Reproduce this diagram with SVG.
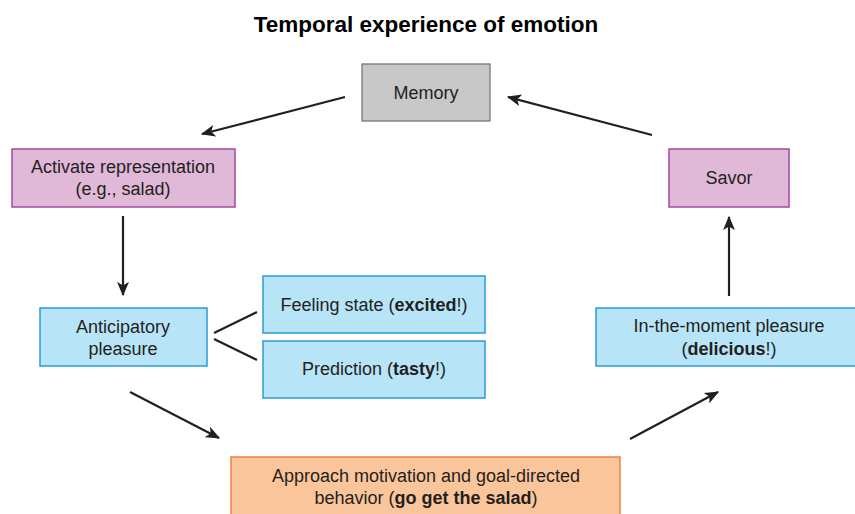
<svg xmlns="http://www.w3.org/2000/svg" width="855" height="514" viewBox="0 0 855 514">
<defs>
<style>
text{font-family:"Liberation Sans",Arial,sans-serif;font-size:18px;fill:#231f20;text-anchor:middle}
.title{font-size:22.5px;font-weight:bold;fill:#000}
.b{font-weight:bold}
.gray{fill:#c8c8c8;stroke:#6d6e70;stroke-width:1.2}
.pink{fill:#e0b8d8;stroke:#a54aa0;stroke-width:1.5}
.blue{fill:#b8e4f8;stroke:#2a9ad8;stroke-width:1.5}
.orange{fill:#fbc59b;stroke:#f08040;stroke-width:1.5}
.conn line{stroke:#231f20;stroke-width:2.2;fill:none}
.arr{marker-end:url(#ah)}
</style>
<marker id="ah" viewBox="0 0 12 10" refX="11" refY="5" markerWidth="6.5" markerHeight="5.5" orient="auto" markerUnits="strokeWidth">
<path d="M0,0 L12,5 L0,10 L3,5 Z" fill="#231f20"/>
</marker>
</defs>
<rect width="855" height="514" fill="#fff"/>
<text class="title" x="426" y="32">Temporal experience of emotion</text>

<g id="memory"><rect class="gray" x="362" y="64" width="128" height="57"/><text x="426" y="99">Memory</text></g>
<g id="activate"><rect class="pink" x="12" y="149" width="223" height="58"/><text x="123" y="173">Activate representation</text><text x="123" y="195">(e.g., salad)</text></g>
<g id="savor"><rect class="pink" x="669" y="149" width="120" height="58"/><text x="729" y="184">Savor</text></g>
<g id="anticipatory"><rect class="blue" x="40" y="308" width="167" height="58"/><text x="123" y="333">Anticipatory</text><text x="123" y="355">pleasure</text></g>
<g id="feeling"><rect class="blue" x="263" y="276" width="222" height="57"/><text x="374" y="311">Feeling state (<tspan class="b">excited</tspan>!)</text></g>
<g id="prediction"><rect class="blue" x="263" y="341" width="222" height="57"/><text x="374" y="375">Prediction (<tspan class="b">tasty</tspan>!)</text></g>
<g id="moment"><rect class="blue" x="596" y="308" width="266" height="58"/><text x="729" y="332">In-the-moment pleasure</text><text x="729" y="355">(<tspan class="b">delicious</tspan>!)</text></g>
<g id="approach"><rect class="orange" x="231" y="457" width="389" height="70"/><text x="426" y="482">Approach motivation and goal-directed</text><text x="426" y="504">behavior (<tspan class="b">go get the salad</tspan>)</text></g>

<g class="conn" id="connectors">
<line class="arr" x1="345" y1="97" x2="202" y2="134"/>
<line class="arr" x1="652" y1="135" x2="508" y2="97"/>
<line class="arr" x1="123" y1="216" x2="123" y2="295"/>
<line class="arr" x1="729" y1="296" x2="729" y2="217"/>
<line class="arr" x1="130" y1="392" x2="219" y2="438"/>
<line class="arr" x1="630" y1="439" x2="718" y2="392"/>
<line x1="214" y1="333" x2="257" y2="312"/>
<line x1="214" y1="339" x2="257" y2="360"/>
</g>
</svg>
